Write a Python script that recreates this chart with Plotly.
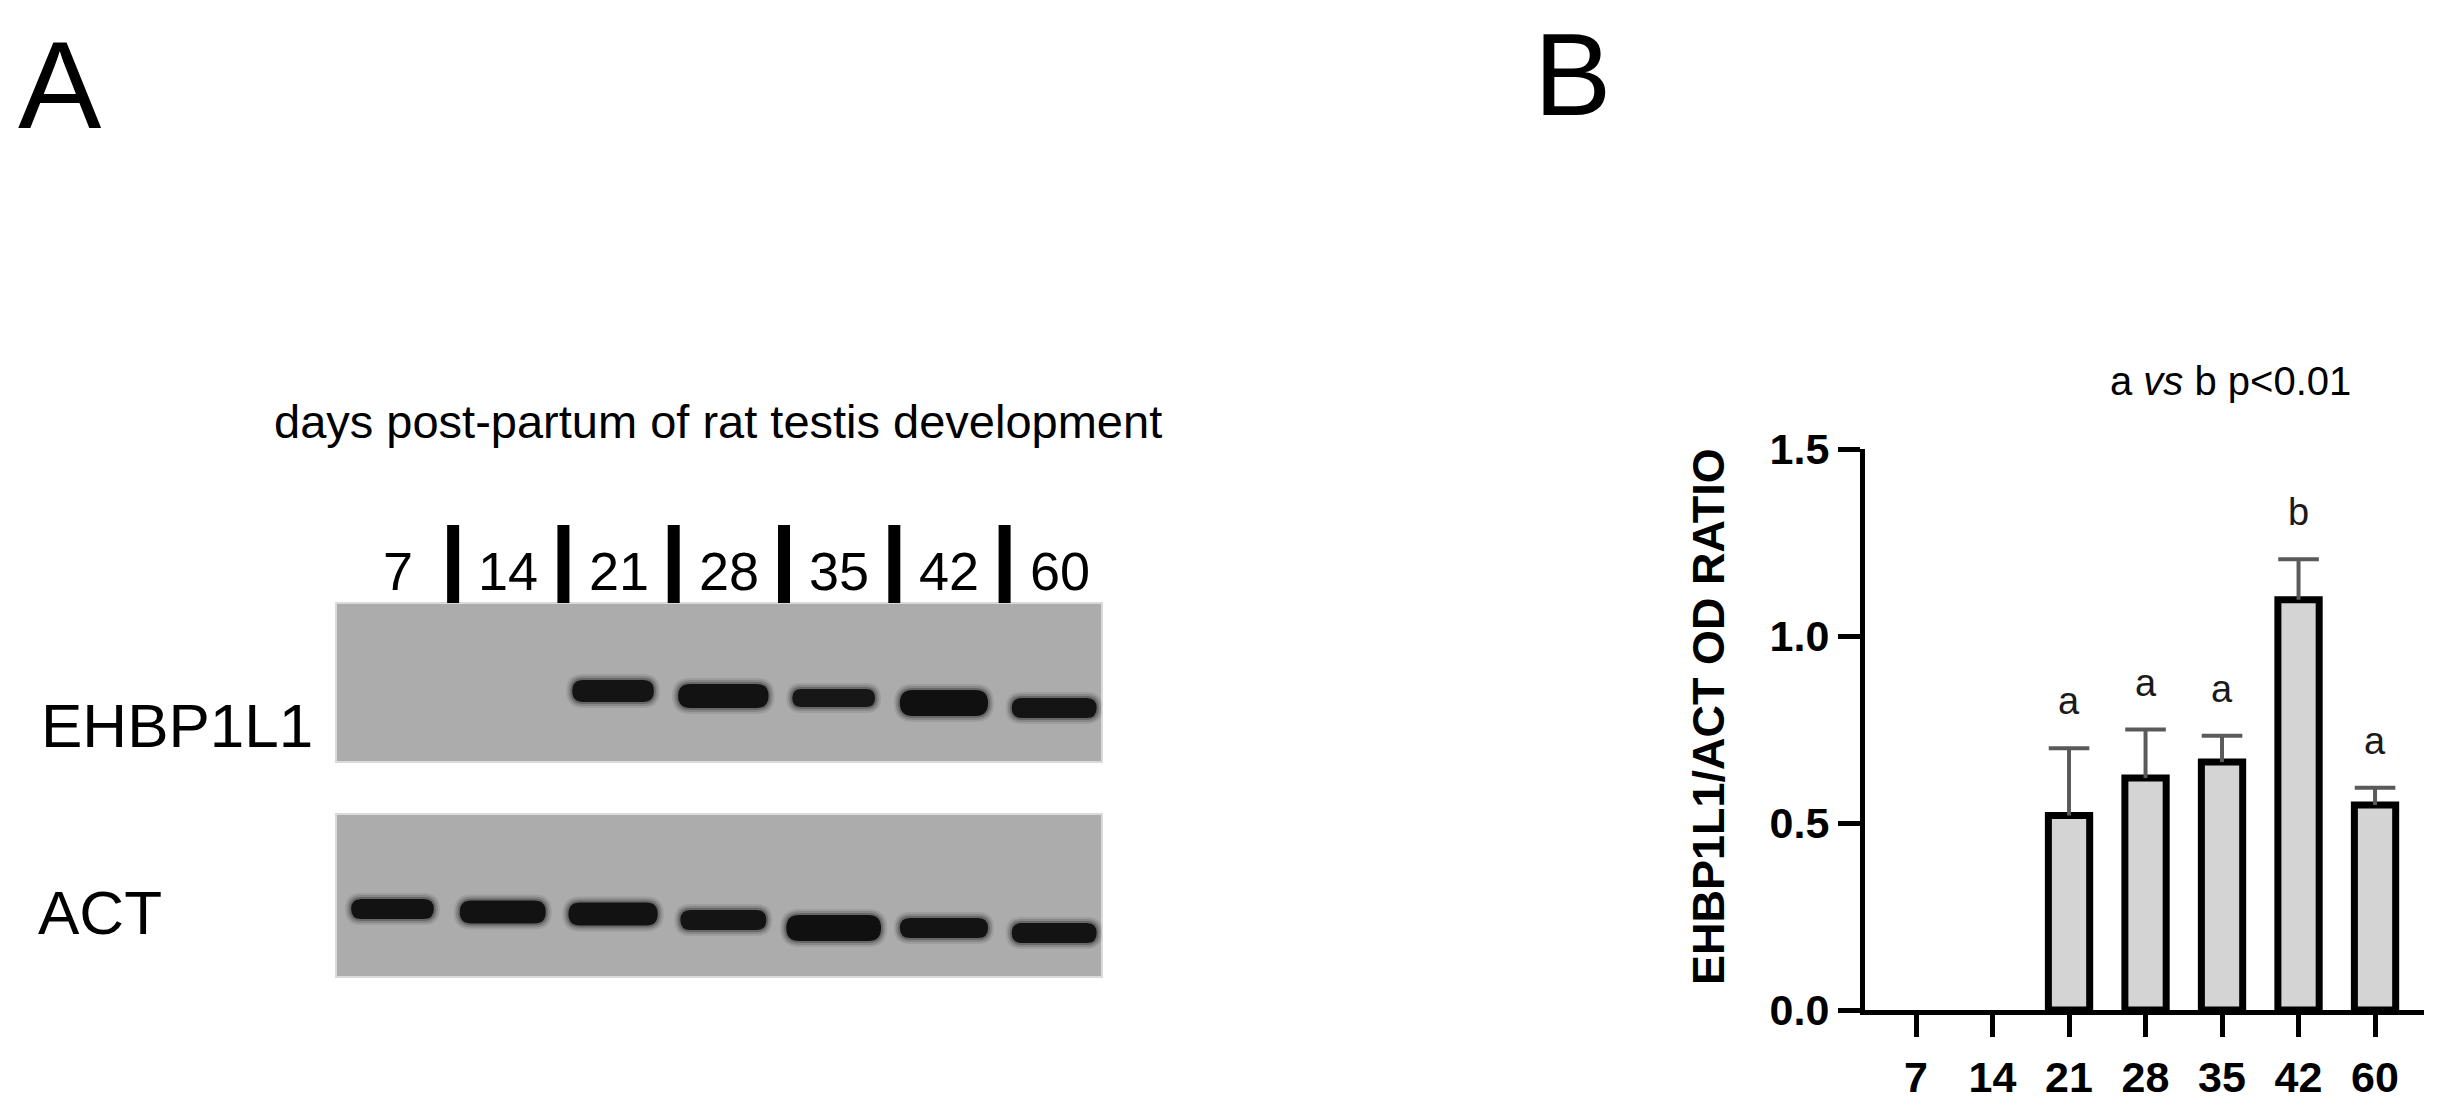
import plotly.graph_objects as go

W, H = 2440, 1117
FONT = "Liberation Sans, Arial, sans-serif"

# panel B: EHBP1L1/ACT densitometry
lanes = ['7', '14', '21', '28', '35', '42', '60']
ratio_mean = [None, None, 0.52, 0.62, 0.663, 1.097, 0.548]
ratio_err = [None, None, 0.18, 0.13, 0.07, 0.108, 0.046]
sig_letters = ['', '', 'a', 'a', 'a', 'b', 'a']
y_ticks = [0, 0.5, 1.0, 1.5]

# panel A: band readings per lane (migration from top of lane area, thickness, length in lane widths)
ehbp_band_pos = [None, None, 183, 188, 190, 195, 200]
ehbp_band_thick = [0, 0, 22, 24, 18, 26, 20]
ehbp_band_len = [0, 0, 0.74, 0.82, 0.75, 0.80, 0.77]
ehbp_band_int = [0, 0, 0.95, 0.97, 0.92, 1.0, 0.95]
act_band_pos = [401, 404, 406, 412, 420, 420, 425]
act_band_thick = [20, 23, 23, 20, 26, 20, 20]
act_band_len = [0.75, 0.78, 0.81, 0.78, 0.86, 0.80, 0.77]
act_band_int = [0.97, 0.97, 0.97, 0.95, 1.0, 0.96, 0.96]


def fx(px):
    return px / W


def fy(py):
    return 1 - py / H


# blot axis geometry (pixels)
BLOT_X = (328, 1094)
LANE_RANGE = (-0.562, 6.383)
PX_PER_LANE = (BLOT_X[1] - BLOT_X[0]) / (LANE_RANGE[1] - LANE_RANGE[0])
blot_rows = [(95, 254), (306, 469)]


def stadium(cx, cy, length, thick, pad=0.0):
    half_t = thick / 2 + pad
    half_l = length / 2 + pad / PX_PER_LANE
    rx = half_t / PX_PER_LANE
    x0, x1 = cx - half_l, cx + half_l
    y0, y1 = cy - half_t, cy + half_t
    return (f"M {x0 + rx},{y0} L {x1 - rx},{y0} Q {x1},{y0} {x1},{cy} "
            f"Q {x1},{y1} {x1 - rx},{y1} L {x0 + rx},{y1} Q {x0},{y1} {x0},{cy} "
            f"Q {x0},{y0} {x0 + rx},{y0} Z")


fig = go.Figure()

# ---- panel B bars
fig.add_trace(go.Bar(
    x=lanes, y=ratio_mean, width=0.54,
    marker=dict(color='#d4d4d4', line=dict(color='black', width=7)),
    xaxis='x', yaxis='y', hoverinfo='skip', showlegend=False
))

stem_x, stem_y, cap_x, cap_y = [], [], [], []
for lane, m, e in zip(lanes, ratio_mean, ratio_err):
    if m is None:
        continue
    stem_x += [lane, lane, None]
    stem_y += [m, m + e, None]
    cap_x.append(lane)
    cap_y.append(m + e)

fig.add_trace(go.Scatter(
    x=stem_x, y=stem_y, mode='lines',
    line=dict(color='#5a5a5a', width=4),
    xaxis='x', yaxis='y', hoverinfo='skip', showlegend=False
))
fig.add_trace(go.Scatter(
    x=cap_x, y=cap_y, mode='markers',
    marker=dict(symbol='line-ew', size=29, line=dict(color='#5a5a5a', width=4)),
    xaxis='x', yaxis='y', hoverinfo='skip', showlegend=False
))

annotations = []
for i, (m, e, lab) in enumerate(zip(ratio_mean, ratio_err, sig_letters)):
    if m is None or not lab:
        continue
    # category axis: annotations take the category index
    annotations.append(dict(
        x=i, y=m + e, xref='x', yref='y', text=lab, showarrow=False,
        yanchor='middle', yshift=47, font=dict(family=FONT, size=38, color='#1a1a1a')
    ))

# ---- panel A blot
sep_x, sep_y = [], []
for i in range(len(lanes) - 1):
    sep_x += [i + 0.5, i + 0.5, None]
    sep_y += [17, blot_rows[0][0], None]
fig.add_trace(go.Scatter(
    x=sep_x, y=sep_y, mode='lines', line=dict(color='black', width=12),
    xaxis='x2', yaxis='y2', hoverinfo='skip', showlegend=False
))

shapes = []
for y0, y1 in blot_rows:
    shapes.append(dict(
        type='rect', xref='x2 domain', yref='y2', x0=0, x1=1, y0=y0, y1=y1,
        fillcolor='#acacac', line=dict(color='#dadada', width=2), layer='below'
    ))

halo = [(6, 0.10), (4, 0.16), (2, 0.28)]
for pos, thick, length, inten in [(ehbp_band_pos, ehbp_band_thick, ehbp_band_len, ehbp_band_int),
                                  (act_band_pos, act_band_thick, act_band_len, act_band_int)]:
    for i in range(len(lanes)):
        if pos[i] is None:
            continue
        cx = i - 0.05
        for pad, alpha in halo:
            shapes.append(dict(
                type='path', xref='x2', yref='y2', path=stadium(cx, pos[i], length[i], thick[i], pad=pad),
                fillcolor=f'rgba(25,25,25,{alpha})', line=dict(width=0), layer='above'
            ))
        shapes.append(dict(
            type='path', xref='x2', yref='y2', path=stadium(cx, pos[i], length[i], thick[i]),
            fillcolor=f'rgba(16,16,16,{inten[i]})', line=dict(width=0), layer='above'
        ))

for i, lane in enumerate(lanes):
    annotations.append(dict(
        x=i, y=63, xref='x2', yref='y2', text=lane, showarrow=False,
        xanchor='center', yanchor='middle', font=dict(family=FONT, size=54, color='black')
    ))

text_items = [
    ('A', 8, 5, 'left', 'top', 125),
    ('B', 1524, 0, 'left', 'top', 116),
    ('days post-partum of rat testis development', 710, 413, 'center', 'middle', 47),
    ('EHBP1L1', 31, 717, 'left', 'middle', 62),
    ('ACT', 28, 904, 'left', 'middle', 62),
    ('a <i>vs</i> b p&lt;0.01', 2222, 373, 'center', 'middle', 40),
]
for txt, x, y, xanc, yanc, size in text_items:
    annotations.append(dict(
        x=fx(x), y=fy(y), xref='paper', yref='paper', text=txt, showarrow=False,
        xanchor=xanc, yanchor=yanc, font=dict(family=FONT, size=size, color='black')
    ))

annotations.append(dict(
    x=fx(1700), y=fy(709), xref='paper', yref='paper', text='EHBP1L1/ACT OD RATIO',
    showarrow=False, textangle=-90, xanchor='center', yanchor='middle',
    font=dict(family=FONT, size=45, color='black', weight='bold')
))

fig.update_layout(
    width=W, height=H, autosize=False,
    margin=dict(l=0, r=0, t=0, b=0),
    paper_bgcolor='white', plot_bgcolor='white',
    showlegend=False,
    xaxis=dict(
        domain=[fx(1857), fx(2416)], type='category', range=[-0.667, 6.64],
        showline=True, linewidth=5, linecolor='black',
        ticks='outside', ticklen=22, tickwidth=5, tickcolor='black',
        tickfont=dict(family=FONT, size=43, color='black', weight='bold'),
        ticklabelstandoff=3, showgrid=False, zeroline=False, anchor='y', automargin=False
    ),
    yaxis=dict(
        domain=[fy(1002), fy(441)], range=[0, 1.5], tickvals=y_ticks, tickformat='.1f',
        showline=True, linewidth=5, linecolor='black',
        ticks='outside', ticklen=22, tickwidth=5, tickcolor='black',
        tickfont=dict(family=FONT, size=43, color='black', weight='bold'),
        showgrid=False, zeroline=False, anchor='x', automargin=False
    ),
    xaxis2=dict(domain=[fx(BLOT_X[0]), fx(BLOT_X[1])], range=list(LANE_RANGE),
                visible=False, anchor='y2'),
    yaxis2=dict(domain=[fy(980), fy(500)], range=[480, 0], visible=False, anchor='x2'),
    shapes=shapes,
    annotations=annotations,
)

fig.write_html("out.html")
